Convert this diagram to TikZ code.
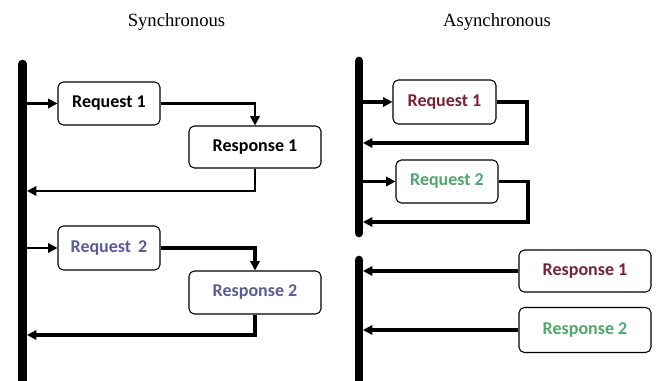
\documentclass[tikz,border=0pt]{standalone}
\usepackage{fontspec}
\setmainfont{Liberation Serif}
\newfontfamily\boxfont{Carlito}
\usetikzlibrary{arrows.meta}
\definecolor{maroon}{HTML}{7A2233}
\definecolor{leaf}{HTML}{4DA86A}
\definecolor{slate}{HTML}{5B5B99}
\tikzset{
  msg/.style={draw=black, line width=0.8pt, rounded corners=4pt, fill=white,
    font=\boxfont\bfseries\fontsize{13.5}{15}\selectfont, inner sep=0pt},
  conn/.style={line width=1.9pt, -{Triangle[length=7pt,width=7pt]}},
  bar/.style={line width=6.5pt},
  title/.style={font=\fontsize{14}{16}\selectfont, anchor=base}
}
% label pushed left inside its box by #1
\newcommand{\lefttext}[2]{#2\hspace{#1}}
\begin{document}
\begin{tikzpicture}[x=0.75pt,y=-0.75pt]
\useasboundingbox (0,0) rectangle (656,381);
\fill[white] (0,0) rectangle (656,381);

% titles
\node[title] (tsync) at (176.5,27) {Synchronous};
\node[title] (tasync) at (497,27) {Asynchronous};

% ---------- synchronous side ----------
\draw[bar, line cap=round] (22.5,64) -- (22.5,372);
\draw[bar] (22.5,368) -- (22.5,381);
\coordinate (sbar) at (27,0);

\node[msg, minimum width=102*0.75pt, minimum height=43*0.75pt] (req1) at (109,103.5) {Request 1};
\node[msg, minimum width=132*0.75pt, minimum height=42*0.75pt] (resp1) at (255,147) {\lefttext{7pt}{Response 1}};
\node[msg, minimum width=102*0.75pt, minimum height=44*0.75pt, text=slate] (req2) at (109,248) {Request\, 2};
\node[msg, minimum width=132*0.75pt, minimum height=43*0.75pt, text=slate] (resp2) at (255,292.5) {\lefttext{14pt}{Response 2}};
\coordinate (sret1) at (255,191);
\coordinate (sret2) at (255,335);

\draw[conn] (sbar |- req1.west) -- (req1.west);
\draw[conn] (req1.east) -| (resp1.north);
\draw[conn] (resp1.south) -- (sret1) -- (sbar |- sret1);
\draw[conn] (sbar |- req2.west) -- (req2.west);
\draw[conn, line width=2.4pt] (req2.east) -| (resp2.north);
\draw[conn, line width=2.4pt] (resp2.south) -- (sret2) -- (sbar |- sret2);

% ---------- asynchronous side ----------
\draw[bar, line cap=round] (359,61) -- (359,233);
\draw[bar, line cap=round] (359,260) -- (359,372);
\draw[bar] (359,368) -- (359,381);
\coordinate (abar) at (363,0);

\node[msg, minimum width=103*0.75pt, minimum height=44*0.75pt, text=maroon] (areq1) at (444.5,102) {Request 1};
\node[msg, minimum width=102*0.75pt, minimum height=43*0.75pt, text=leaf] (areq2) at (447,181.5) {Request 2};
\node[msg, minimum width=132*0.75pt, minimum height=42*0.75pt, text=maroon] (aresp1) at (585,271) {\lefttext{14pt}{Response 1}};
\node[msg, minimum width=132*0.75pt, minimum height=45*0.75pt, text=leaf] (aresp2) at (585,330) {\lefttext{7pt}{Response 2}};
\coordinate (aret1) at (527,143);
\coordinate (aret2) at (528,222);

\draw[conn, line width=2.4pt] (abar |- areq1.west) -- (areq1.west);
\draw[conn, line width=2.4pt] (areq1.east) -| (aret1) -- (abar |- aret1);
\draw[conn, line width=2.4pt] (abar |- areq2.west) -- (areq2.west);
\draw[conn, line width=2.4pt] (areq2.east) -| (aret2) -- (abar |- aret2);
\draw[conn, line width=2.4pt] (aresp1.west) -- (abar |- aresp1.west);
\draw[conn, line width=2.4pt] (aresp2.west) -- (abar |- aresp2.west);
\end{tikzpicture}
\end{document}
